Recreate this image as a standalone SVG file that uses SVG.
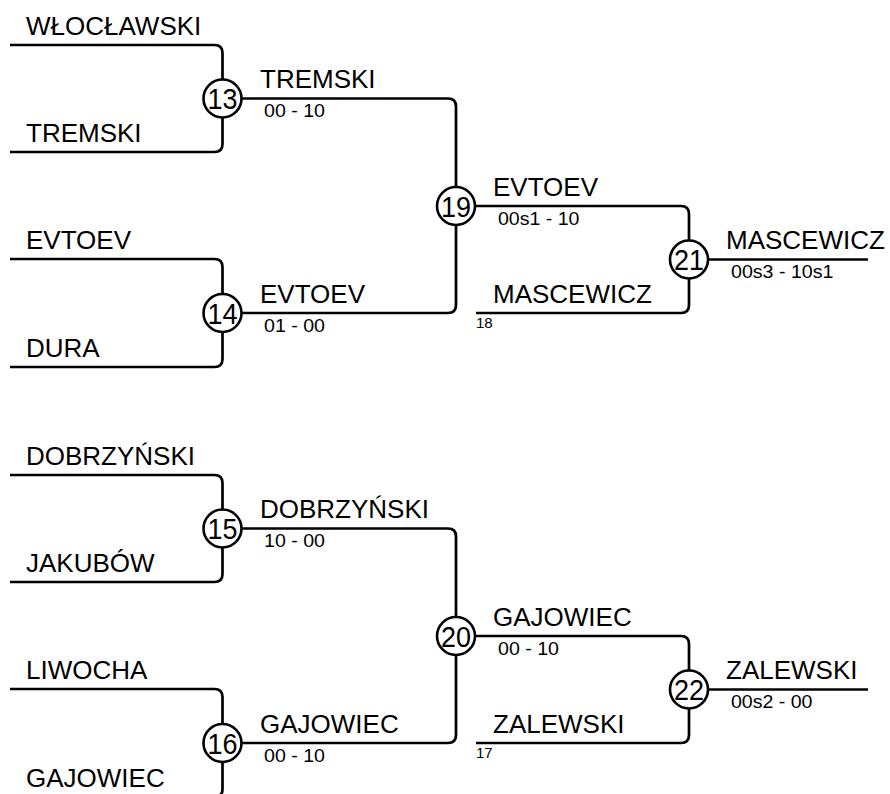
<svg xmlns="http://www.w3.org/2000/svg" width="890" height="794" viewBox="0 0 890 794">
<style>
.ln{fill:none;stroke:#000;stroke-width:2.7;stroke-linecap:butt}
.c{fill:#fff;stroke:#000;stroke-width:2.6}
.nm{font-family:"Liberation Sans",Arial,sans-serif;font-size:26px;fill:#000}
.sc{font-family:"Liberation Sans",Arial,sans-serif;font-size:18px;fill:#000}
.num{font-family:"Liberation Sans",Arial,sans-serif;font-size:29px;fill:#000;text-anchor:middle}
.sd{font-family:"Liberation Sans",Arial,sans-serif;font-size:15px;fill:#000}
</style>
<rect width="890" height="794" fill="#fff"/>
<g id="connectors">
<path class="ln" d="M10 45H214.5Q222.5 45 222.5 53V79.5"/>
<path class="ln" d="M10 152H214.5Q222.5 152 222.5 144V117.5"/>
<path class="ln" d="M241.5 98.5H448Q456 98.5 456 106.5V187"/>
<path class="ln" d="M10 259H214.5Q222.5 259 222.5 267V294"/>
<path class="ln" d="M10 367H214.5Q222.5 367 222.5 359V332"/>
<path class="ln" d="M241.5 313H448Q456 313 456 305V225"/>
<path class="ln" d="M475 206H681Q689 206 689 214V240.5"/>
<path class="ln" d="M476 313H681Q689 313 689 305V278.5"/>
<path class="ln" d="M708 259.5H868"/>
<path class="ln" d="M10 475H214.5Q222.5 475 222.5 483V509.5"/>
<path class="ln" d="M10 582H214.5Q222.5 582 222.5 574V547.5"/>
<path class="ln" d="M241.5 528.5H448Q456 528.5 456 536.5V617"/>
<path class="ln" d="M10 689H214.5Q222.5 689 222.5 697V724"/>
<path class="ln" d="M10 797H214.5Q222.5 797 222.5 789V762"/>
<path class="ln" d="M241.5 743H448Q456 743 456 735V655"/>
<path class="ln" d="M475 636H681Q689 636 689 644V670.5"/>
<path class="ln" d="M476 743H681Q689 743 689 735V708.5"/>
<path class="ln" d="M708 689.5H868"/>
</g>
<g id="entrants">
<text class="nm" x="26" y="35">WŁOCŁAWSKI</text>
<text class="nm" x="26" y="142">TREMSKI</text>
<text class="nm" x="26" y="249">EVTOEV</text>
<text class="nm" x="26" y="357">DURA</text>
<text class="nm" x="26" y="465">DOBRZYŃSKI</text>
<text class="nm" x="26" y="572">JAKUBÓW</text>
<text class="nm" x="26" y="679">LIWOCHA</text>
<text class="nm" x="26" y="787">GAJOWIEC</text>
</g>
<g id="match-13">
<circle class="c" cx="222.5" cy="98.5" r="19"/>
<text class="num" x="222.5" y="109" textLength="30" lengthAdjust="spacingAndGlyphs">13</text>
<text class="nm" x="260" y="88">TREMSKI</text>
<text class="sc" x="264" y="117" textLength="61" lengthAdjust="spacingAndGlyphs">00 - 10</text>
</g>
<g id="match-14">
<circle class="c" cx="222.5" cy="313" r="19"/>
<text class="num" x="222.5" y="323.5" textLength="30" lengthAdjust="spacingAndGlyphs">14</text>
<text class="nm" x="260" y="302.5">EVTOEV</text>
<text class="sc" x="264" y="331.5" textLength="61" lengthAdjust="spacingAndGlyphs">01 - 00</text>
</g>
<g id="match-19">
<circle class="c" cx="456" cy="206" r="19"/>
<text class="num" x="456" y="216.5" textLength="30" lengthAdjust="spacingAndGlyphs">19</text>
<text class="nm" x="493" y="195.5">EVTOEV</text>
<text class="sc" x="498" y="224.5" textLength="81.5" lengthAdjust="spacingAndGlyphs">00s1 - 10</text>
</g>
<g id="seed-18">
<text class="nm" x="493" y="302.5">MASCEWICZ</text>
<text class="sd" x="476" y="327.5">18</text>
</g>
<g id="match-21">
<circle class="c" cx="689" cy="259.5" r="19"/>
<text class="num" x="689" y="270" textLength="30" lengthAdjust="spacingAndGlyphs">21</text>
<text class="nm" x="726" y="249">MASCEWICZ</text>
<text class="sc" x="731" y="278" textLength="102.5" lengthAdjust="spacingAndGlyphs">00s3 - 10s1</text>
</g>
<g id="match-15">
<circle class="c" cx="222.5" cy="528.5" r="19"/>
<text class="num" x="222.5" y="539" textLength="30" lengthAdjust="spacingAndGlyphs">15</text>
<text class="nm" x="260" y="518">DOBRZYŃSKI</text>
<text class="sc" x="264" y="547" textLength="61" lengthAdjust="spacingAndGlyphs">10 - 00</text>
</g>
<g id="match-16">
<circle class="c" cx="222.5" cy="743" r="19"/>
<text class="num" x="222.5" y="753.5" textLength="30" lengthAdjust="spacingAndGlyphs">16</text>
<text class="nm" x="260" y="732.5">GAJOWIEC</text>
<text class="sc" x="264" y="761.5" textLength="61" lengthAdjust="spacingAndGlyphs">00 - 10</text>
</g>
<g id="match-20">
<circle class="c" cx="456" cy="636" r="19"/>
<text class="num" x="456" y="646.5" textLength="30" lengthAdjust="spacingAndGlyphs">20</text>
<text class="nm" x="493" y="625.5">GAJOWIEC</text>
<text class="sc" x="498" y="654.5" textLength="61" lengthAdjust="spacingAndGlyphs">00 - 10</text>
</g>
<g id="seed-17">
<text class="nm" x="493" y="732.5">ZALEWSKI</text>
<text class="sd" x="476" y="757.5">17</text>
</g>
<g id="match-22">
<circle class="c" cx="689" cy="689.5" r="19"/>
<text class="num" x="689" y="700" textLength="30" lengthAdjust="spacingAndGlyphs">22</text>
<text class="nm" x="726" y="679">ZALEWSKI</text>
<text class="sc" x="731" y="708" textLength="81.5" lengthAdjust="spacingAndGlyphs">00s2 - 00</text>
</g>
</svg>
